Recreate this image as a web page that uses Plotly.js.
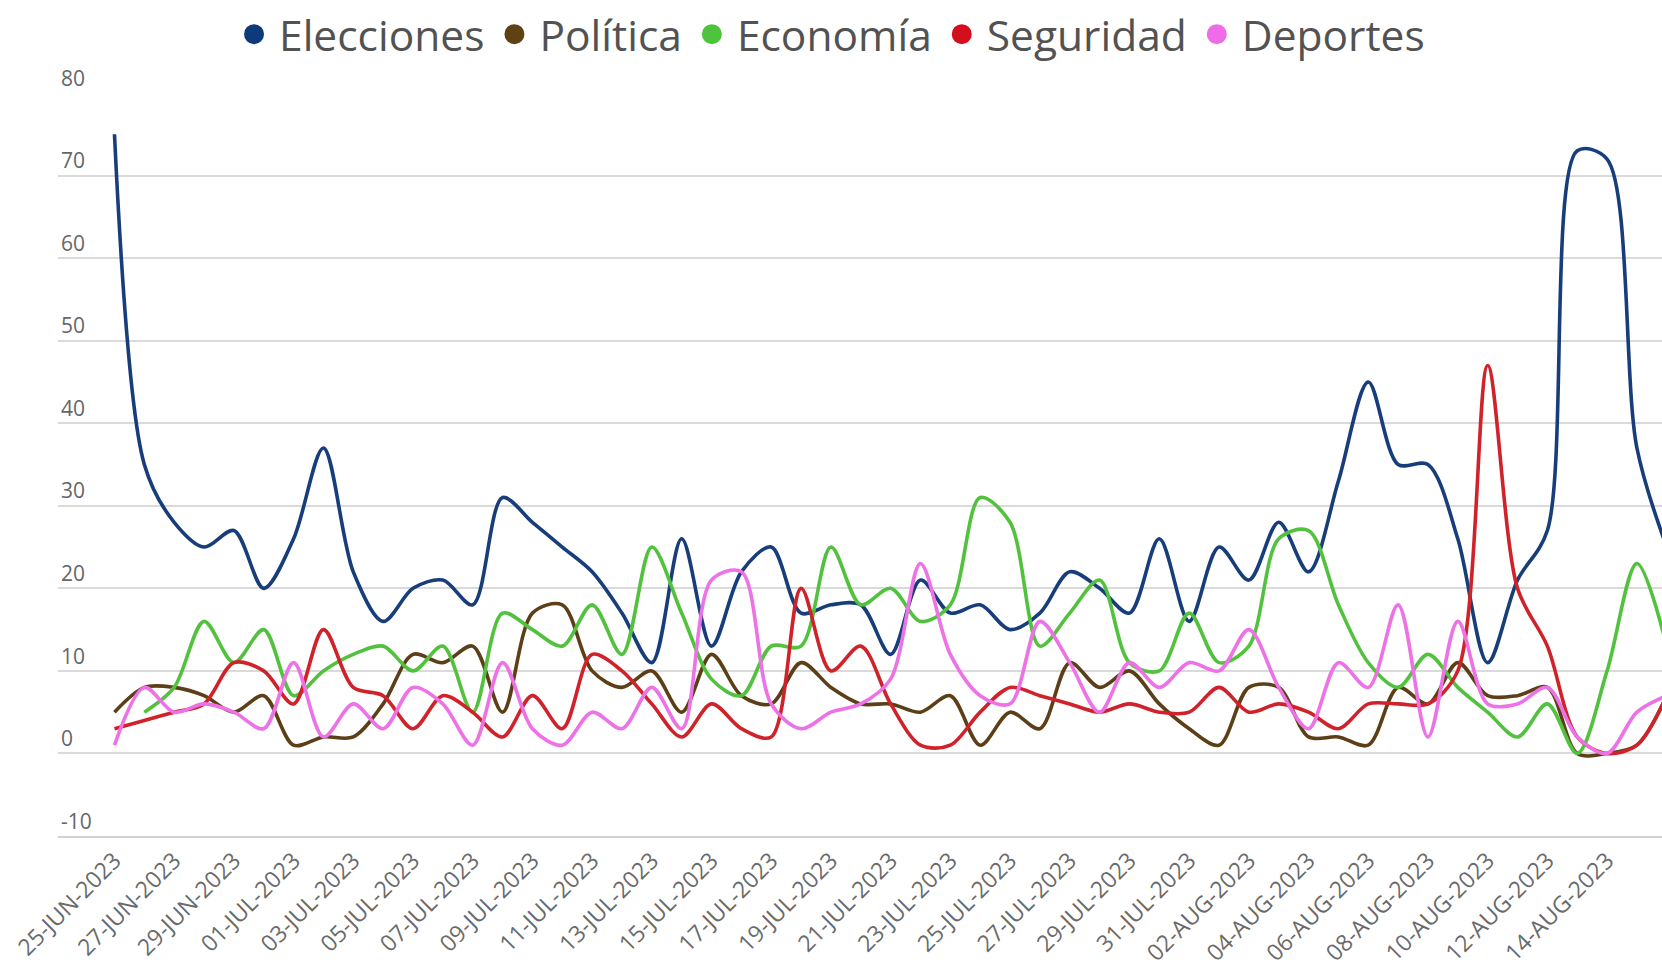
<!DOCTYPE html>
<html>
<head>
<meta charset="utf-8">
<script src="https://cdn.plot.ly/plotly-3.0.1.min.js"></script>
<style>html,body{margin:0;padding:0;background:#fff;}#chart{width:1662px;height:969px;}</style>
</head>
<body>
<div id="chart"></div>
<script>
// Daily categories: 25-JUN-2023 .. 16-AUG-2023
const startDate = "2023-06-25";
const dayCount = 53;
const dates = [];
(function () {
  const d0 = new Date(startDate + "T00:00:00Z");
  for (let i = 0; i < dayCount; i++) {
    const d = new Date(d0.getTime() + i * 86400000);
    dates.push(d.toISOString().slice(0, 10));
  }
})();

const tickLabels = ["25-JUN-2023","27-JUN-2023","29-JUN-2023","01-JUL-2023","03-JUL-2023","05-JUL-2023",
  "07-JUL-2023","09-JUL-2023","11-JUL-2023","13-JUL-2023","15-JUL-2023","17-JUL-2023","19-JUL-2023",
  "21-JUL-2023","23-JUL-2023","25-JUL-2023","27-JUL-2023","29-JUL-2023","31-JUL-2023","02-AUG-2023",
  "04-AUG-2023","06-AUG-2023","08-AUG-2023","10-AUG-2023","12-AUG-2023","14-AUG-2023"];
const tickDates = ["2023-06-25","2023-06-27","2023-06-29","2023-07-01","2023-07-03","2023-07-05",
  "2023-07-07","2023-07-09","2023-07-11","2023-07-13","2023-07-15","2023-07-17","2023-07-19",
  "2023-07-21","2023-07-23","2023-07-25","2023-07-27","2023-07-29","2023-07-31","2023-08-02",
  "2023-08-04","2023-08-06","2023-08-08","2023-08-10","2023-08-12","2023-08-14"];
const yTickVals = [-10,0,10,20,30,40,50,60,70,80];
const yTickText = ["-10","0","10","20","30","40","50","60","70","80"];

const elecciones = [75,35,28,25,27,20,26,37,22,16,20,21,18,31,28,25,22,17,11,26,13,22,25,17,18,18,12,
  21,17,18,15,17,22,20,17,26,16,25,21,28,22,33,45,35,35,26,11,21,27,73,72,37,25];
const politica = [5,8,8,7,5,7,1,2,2,6,12,11,13,5,17,18,10,8,10,5,12,7,6,11,8,6,6,
  5,7,1,5,3,11,8,10,6,3,1,8,8,2,2,1,8,6,11,7,7,8,0,0,1,7];
const economia = [null,5,8,16,11,15,7,10,12,13,10,13,5,17,15,13,18,12,25,17,9,7,13,13,25,18,20,
  16,18,31,28,13,17,21,11,10,17,11,13,26,27,18,11,8,12,8,5,2,6,0,10,23,13];
const seguridad = [3,4,5,6,11,10,6,15,8,7,3,7,5,2,7,3,12,10,6,2,6,3,2,20,10,13,6,
  1,1,5,8,7,6,5,6,5,5,8,5,6,5,3,6,6,6,10,47,20,13,2,0,1,7];
const deportes = [1,8,5,6,5,3,11,2,6,3,8,6,1,11,3,1,5,3,8,3,21,22,6,3,5,6,9,
  23,12,7,6,16,11,5,11,8,11,10,15,8,3,11,8,18,2,16,6,6,8,2,0,5,7];

const seriesNames = ["Elecciones","Política","Economía","Seguridad","Deportes"];
const seriesValues = [elecciones, politica, economia, seguridad, deportes];
const lineColors = ["#173e7a","#5c3f17","#52c23e","#d0222a","#ec72e6"];
const dotColors = ["#0d3a7a","#5e4214","#4ec33d","#d40f1d","#ef6ce9"];

const traces = [];
seriesNames.forEach(function (name, i) {
  traces.push({
    type: "scatter", mode: "lines", name: name, x: dates, y: seriesValues[i],
    line: {color: lineColors[i], width: 3.6, shape: "spline", smoothing: 0.9},
    showlegend: false, legendgroup: name, hoverinfo: "x+y+name"
  });
});
// legend entries drawn as round symbols
seriesNames.forEach(function (name, i) {
  traces.push({
    type: "scatter", mode: "markers", name: name, x: [null], y: [null],
    marker: {color: dotColors[i], size: 16, symbol: "circle", line: {color: dotColors[i], width: 4}},
    showlegend: true, legendgroup: name, hoverinfo: "skip"
  });
});

const layout = {
  width: 1662, height: 969,
  margin: {l: 58, r: 0, t: 91, b: 133, pad: 0},
  paper_bgcolor: "#ffffff", plot_bgcolor: "#ffffff",
  font: {family: "Open Sans, sans-serif", color: "#666666"},
  showlegend: true,
  legend: {
    orientation: "h", x: 0.481, xanchor: "center", y: 1.079, yanchor: "middle",
    font: {size: 42.5, color: "#525252", family: "Open Sans, sans-serif"},
    itemsizing: "trace", itemwidth: 40, traceorder: "normal", bgcolor: "rgba(0,0,0,0)"
  },
  xaxis: {
    type: "date",
    range: ["2023-06-23 02:36", "2023-08-15 20:10"],
    tickmode: "array", tickvals: tickDates, ticktext: tickLabels,
    tickangle: -45, tickfont: {size: 23, color: "#6a6a6a"},
    showgrid: false, zeroline: false, ticks: "",
    showline: true, linecolor: "#d2d2d2", linewidth: 2
  },
  yaxis: {
    range: [-10, 80], tickmode: "array", tickvals: yTickVals, ticktext: yTickText,
    gridcolor: "#dadada", gridwidth: 2, zeroline: false,
    ticklabelposition: "inside top", ticklabeloverflow: "allow",
    tickfont: {size: 21, color: "#666666"}, ticks: "", showline: false
  }
};

Plotly.newPlot("chart", traces, layout, {displayModeBar: false, staticPlot: false});
</script>
</body>
</html>
